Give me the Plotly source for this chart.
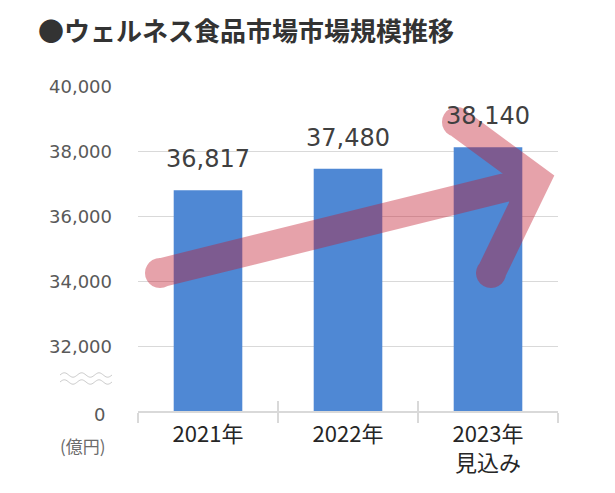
import math
import plotly.graph_objects as go

# ---- data ----
categories = ["2021年", "2022年", "2023年<br>見込み"]
values = [36817, 37480, 38140]
y_tickvals = [32000, 34000, 36000, 38000, 40000]
y_ticktext = ["32,000", "34,000", "36,000", "38,000", "40,000"]
y_min, y_max = 30000, 40000
zero_text = "0"
unit_text = "(億円)"
title_text = "●ウェルネス食品市場市場規模推移"

# ---- layout geometry (reference pixels; page body adds an 8px offset) ----
OFF = 8
W, H = 615 - OFF, 493 - OFF
PLOT_L, PLOT_R, PLOT_T, PLOT_B = 138, 558, 87, 411   # in reference pixels
ML = PLOT_L - OFF
MT = PLOT_T - OFF
MR = W - (PLOT_R - OFF)
MB = H - (PLOT_B - OFF)
PW = PLOT_R - PLOT_L
PH = PLOT_B - PLOT_T

GRAY = "#D9D9D9"


def to_paper(px, py):
    return (px - PLOT_L) / PW, (PLOT_B - py) / PH


def pt(px, py):
    x, y = to_paper(px, py)
    return f"{x:.5f},{y:.5f}"


def dot(px, py, n=24, r=0.4):
    pts = [pt(px + r * math.cos(2 * math.pi * k / n), py + r * math.sin(2 * math.pi * k / n)) for k in range(n)]
    return "M" + "L".join(pts) + "Z"


# decorative trend arrow
S = (160, 273)
V = (536, 180)
U = (457, 122)
LO = (491, 273)
arrow_path = (f"M{pt(*S)}L{pt(*V)}M{pt(*U)}L{pt(*V)}L{pt(*LO)}"
              + dot(*S) + dot(*U) + dot(*LO))


# axis-break wave marks
def wave(y0, x0=60, x1=112, periods=3, amp=2.2, n=60):
    pts = []
    for k in range(n + 1):
        t = k / n
        px = x0 + (x1 - x0) * t
        py = y0 - amp * math.sin(2 * math.pi * periods * t)
        pts.append(pt(px, py))
    return "M" + "L".join(pts)


wave_path = wave(375) + wave(382)

fig = go.Figure()
fig.add_trace(go.Bar(
    x=categories, y=values,
    marker=dict(color="#4F88D4", line=dict(width=0)),
    hoverinfo="skip", showlegend=False,
))
fig.add_trace(go.Scatter(
    x=categories, y=values, xaxis="x2", mode="markers",
    marker=dict(opacity=0), hoverinfo="skip", showlegend=False,
))

annotations = []
for c, v in zip(categories, values):
    annotations.append(dict(
        x=c, y=v, xref="x", yref="y", text=f"{v:,}", showarrow=False,
        yanchor="bottom", yshift=15,
        font=dict(family="DejaVu Sans", size=24, color="#404040"),
    ))

zx, _ = to_paper(107, 0)
annotations.append(dict(
    x=zx, y=y_min, xref="paper", yref="y", text=zero_text, showarrow=False,
    xanchor="right", yanchor="middle", yshift=-3,
    font=dict(family="DejaVu Sans", size=18, color="#595959"),
))
ux, uy = to_paper(83, 445)
annotations.append(dict(
    x=ux, y=uy, xref="paper", yref="paper", text=unit_text, showarrow=False,
    xanchor="center", yanchor="middle",
    font=dict(family="Noto Sans CJK JP", size=17, color="#6b6b6b"),
))

fig.update_layout(
    width=W, height=H,
    margin=dict(l=ML, r=MR, t=MT, b=MB, autoexpand=False),
    paper_bgcolor="white", plot_bgcolor="white",
    bargap=0.51,
    title=dict(
        text=f"<b>{title_text}</b>",
        x=(38 - OFF) / W, xanchor="left", xref="container",
        y=1 - (32 - OFF) / H, yanchor="middle", yref="container",
        font=dict(family="Noto Sans CJK JP", size=26, color="#333333"),
    ),
    xaxis=dict(
        type="category", categoryarray=categories, range=[-0.5, 2.5],
        tickson="boundaries", ticks="outside", ticklen=10, tickwidth=1.5, tickcolor=GRAY,
        showline=True, linecolor=GRAY, linewidth=1.5, showgrid=False,
        ticklabelstandoff=3,
        tickfont=dict(family="Noto Sans CJK JP", size=22, color="#262626"),
    ),
    xaxis2=dict(
        type="category", categoryarray=categories, range=[-0.5, 2.5],
        overlaying="x", anchor="y", side="bottom",
        tickson="boundaries", ticks="inside", ticklen=10, tickwidth=1.5, tickcolor=GRAY,
        showticklabels=False, showline=False, showgrid=False,
    ),
    yaxis=dict(
        range=[y_min, y_max], tickvals=y_tickvals, ticktext=y_ticktext,
        showgrid=True, gridcolor=GRAY, gridwidth=1, zeroline=False,
        showline=False, ticks="", ticklabelstandoff=25,
        tickfont=dict(family="DejaVu Sans", size=18, color="#595959"),
    ),
    shapes=[
        dict(type="path", xref="paper", yref="paper", path=arrow_path,
             line=dict(color="rgb(195,25,45)", width=29),
             fillcolor="rgba(0,0,0,0)", opacity=0.4, layer="above"),
        dict(type="path", xref="paper", yref="paper", path=wave_path,
             line=dict(color="#C8C8C8", width=1),
             fillcolor="rgba(0,0,0,0)", layer="above"),
    ],
    annotations=annotations,
)

fig.write_html("out.html")
